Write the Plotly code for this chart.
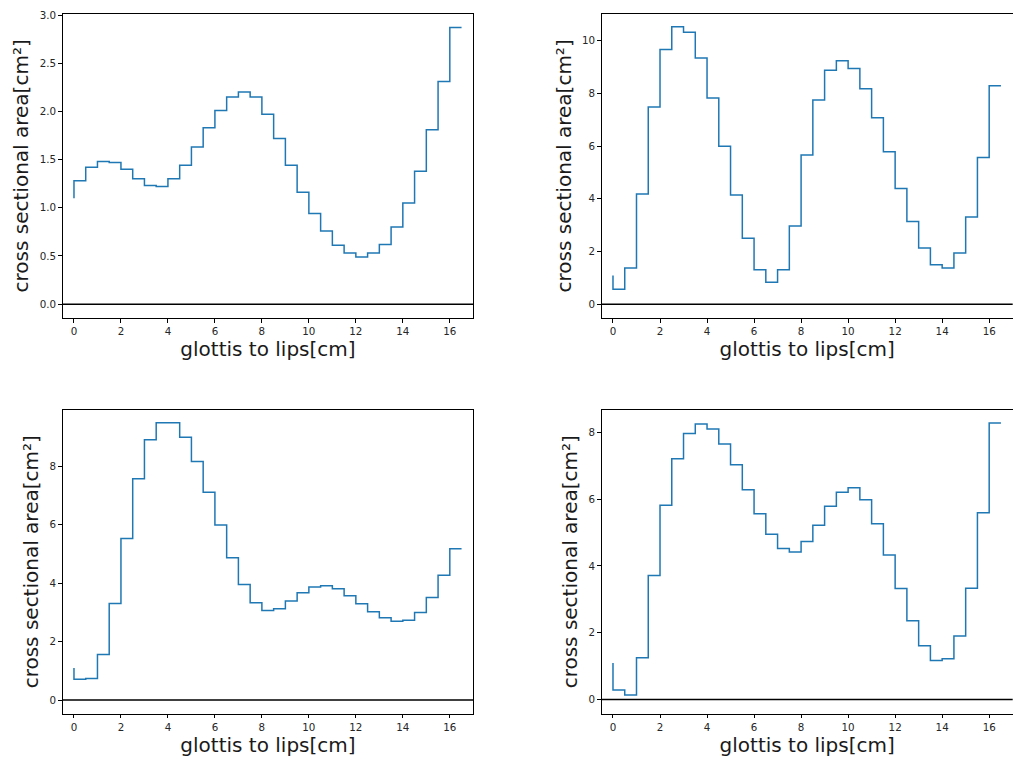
import plotly.graph_objects as go
from plotly.subplots import make_subplots

x_cm = [i * 0.5 for i in range(34)]

area_1 = [1.10, 1.28, 1.42, 1.48, 1.47, 1.40, 1.30, 1.23, 1.22, 1.30, 1.44, 1.63,
          1.83, 2.01, 2.15, 2.20, 2.15, 1.97, 1.72, 1.44, 1.16, 0.94, 0.76, 0.61,
          0.53, 0.49, 0.53, 0.62, 0.80, 1.05, 1.38, 1.81, 2.31, 2.87]
area_2 = [1.09, 0.57, 1.37, 4.18, 7.49, 9.67, 10.53, 10.33, 9.35, 7.83, 6.00, 4.15,
          2.50, 1.31, 0.83, 1.31, 2.97, 5.66, 7.75, 8.88, 9.24, 8.95, 8.18, 7.08,
          5.79, 4.39, 3.14, 2.13, 1.50, 1.37, 1.94, 3.31, 5.57, 8.29]
area_3 = [1.10, 0.71, 0.74, 1.56, 3.31, 5.53, 7.58, 8.91, 9.49, 9.49, 9.00, 8.17,
          7.11, 5.99, 4.87, 3.96, 3.33, 3.07, 3.13, 3.39, 3.67, 3.87, 3.91, 3.81,
          3.57, 3.30, 3.02, 2.82, 2.70, 2.73, 3.00, 3.51, 4.27, 5.18]
area_4 = [1.09, 0.28, 0.13, 1.25, 3.71, 5.82, 7.21, 7.97, 8.25, 8.10, 7.65, 7.03,
          6.28, 5.56, 4.95, 4.52, 4.42, 4.73, 5.22, 5.79, 6.21, 6.34, 5.98, 5.26,
          4.33, 3.32, 2.36, 1.61, 1.17, 1.22, 1.90, 3.33, 5.59, 8.28]

series = [area_1, area_2, area_3, area_4]
y_ranges = [[-0.1435, 3.0135], [-0.525, 11.03], [-0.47, 9.94], [-0.43, 8.68]]
y_ticks = [[0, 0.5, 1.0, 1.5, 2.0, 2.5, 3.0], [0, 2, 4, 6, 8, 10], [0, 2, 4, 6, 8], [0, 2, 4, 6, 8]]
y_fmt = [".1f", "d", "d", "d"]
x_ticks = [0, 2, 4, 6, 8, 10, 12, 14, 16]

xlabel = "glottis to lips[cm]"
ylabel = "cross sectional area[cm²]"

fig = make_subplots(rows=2, cols=2)

x_domains = [[62.7 / 1013, 473.3 / 1013], [601.7 / 1013, 1012.7 / 1013]]
y_domains = [[1 - 318 / 765, 1 - 13.7 / 765], [1 - 713.8 / 765, 1 - 409.7 / 765]]

font_family = "DejaVu Sans"
for k, ys in enumerate(series):
    r, c = k // 2 + 1, k % 2 + 1
    fig.add_trace(go.Scatter(x=x_cm, y=ys, mode="lines", line_shape="vh",
                             line=dict(color="#1f77b4", width=1.5), showlegend=False),
                  row=r, col=c)
    fig.add_hline(y=0, line=dict(color="black", width=1.5), row=r, col=c)
    fig.update_xaxes(domain=x_domains[c - 1], range=[-0.48, 17.0], tickvals=x_ticks,
                     automargin=False,
                     showgrid=False, zeroline=False, showline=True, mirror=True,
                     linecolor="black", linewidth=1, ticks="outside", ticklen=3.5,
                     tickcolor="black", tickwidth=1,
                     tickfont=dict(family=font_family, size=10.3, color="#262626"),
                     title=dict(text=xlabel, standoff=6,
                                font=dict(family=font_family, size=20, color="#1a1a1a")),
                     row=r, col=c)
    fig.update_yaxes(domain=y_domains[r - 1], range=y_ranges[k], tickvals=y_ticks[k],
                     tickformat=y_fmt[k], automargin=False,
                     showgrid=False, zeroline=False, showline=True, mirror=True,
                     linecolor="black", linewidth=1, ticks="outside", ticklen=3.5,
                     tickcolor="black", tickwidth=1,
                     tickfont=dict(family=font_family, size=10.3, color="#262626"),
                     title=dict(text=ylabel, standoff=5,
                                font=dict(family=font_family, size=20, color="#1a1a1a")),
                     row=r, col=c)

fig.update_layout(width=1013, height=765, margin=dict(l=0, r=0, t=0, b=0),
                  paper_bgcolor="white", plot_bgcolor="white",
                  font=dict(family=font_family))
fig.write_html("out.html", config={"displayModeBar": False},
               post_script="document.body.style.margin='0';document.body.style.overflow='hidden';")
